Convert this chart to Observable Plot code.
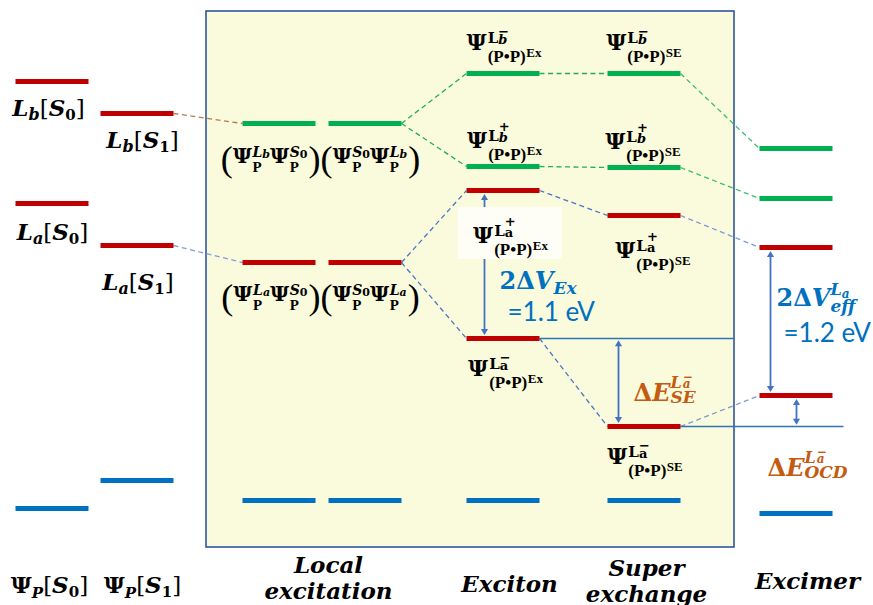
<!DOCTYPE html>
<html>
<head>
<meta charset="utf-8">
<script src="https://cdn.jsdelivr.net/npm/d3@7"></script>
<script src="https://cdn.jsdelivr.net/npm/@observablehq/plot@0.6"></script>
<style>
html,body{margin:0;padding:0;background:#fff;}
#chart svg{display:block;}
</style>
</head>
<body>
<div id="chart"></div>
<script>
// ---------------- DATA ----------------
const columns = ["S0", "S1", "LE1", "LE2", "Ex", "SE", "Excimer"];
const columnTitles = ["Ψ_P[S_0]", "Ψ_P[S_1]", "Local\nexcitation", "", "Exciton", "Super\nexchange", "Excimer"];

const levelColumn = ["S0","S0","S0", "S1","S1","S1", "LE1","LE1","LE1", "LE2","LE2","LE2",
  "Ex","Ex","Ex","Ex","Ex", "SE","SE","SE","SE","SE", "Excimer","Excimer","Excimer","Excimer","Excimer"];
const levelState = ["Lb","La","G", "Lb","La","G", "Lb","La","G", "Lb","La","G",
  "Lb-","Lb+","La+","La-","G", "Lb-","Lb+","La+","La-","G", "Lb-","Lb+","La+","La-","G"];
// relative energies (arbitrary units)
const levelEnergy = [524,402,97, 492,360,125, 482,343,105, 482,343,105,
  532,439,415,267,105, 532,438,390,179,105, 457,407,358,210,92];

const correlations = [
  ["S1","Lb","LE1","Lb"], ["S1","La","LE1","La"],
  ["LE2","Lb","Ex","Lb-"], ["LE2","Lb","Ex","Lb+"], ["LE2","La","Ex","La+"], ["LE2","La","Ex","La-"],
  ["Ex","Lb-","SE","Lb-"], ["Ex","Lb+","SE","Lb+"], ["Ex","La+","SE","La+"], ["Ex","La-","SE","La-"],
  ["SE","Lb-","Excimer","Lb-"], ["SE","Lb+","Excimer","Lb+"], ["SE","La+","Excimer","La+"], ["SE","La-","Excimer","La-"]
];

const gapNames = ["2ΔV_Ex", "ΔE_SE", "2ΔV_eff", "ΔE_OCD"];
const gapValues = [1.1, null, 1.2, null]; // eV
const gapColumn = ["Ex", "SE", "Excimer", "Excimer"];
const gapUpper = [["Ex","La+"], ["Ex","La-"], ["Excimer","La+"], ["Excimer","La-"]];
const gapLower = [["Ex","La-"], ["SE","La-"], ["Excimer","La-"], ["SE","La-"]];

// ---------------- LAYOUT ----------------
const W = 873, H = 605;
const colX = {S0: 51.5, S1: 136.5, LE1: 278.5, LE2: 364.5, Ex: 502.5, SE: 643.5, Excimer: 795.5};
const halfW = 36.5, thick = 5;
const RED = "#c00000", GREEN = "#00b050", BLUE = "#0070c0";
const ARROW = "#4472c4", GUIDE = "#2e75b6", ORANGE = "#c55a11", TXTBLUE = "#0070c0";
const MATH = "DejaVu Serif, Liberation Serif, serif";
const TIMES = "Liberation Serif, serif";
const SANS = "Lato, Open Sans, sans-serif";

const levels = levelColumn.map((col, i) => ({col, state: levelState[i], E: levelEnergy[i]}));
const lvl = (c, s) => levels.find(d => d.col === c && d.state === s);
const xL = d => colX[d.col] - halfW, xR = d => colX[d.col] + halfW;
const mono = c => c === "S0" || c === "S1";
levels.forEach(d => {
  d.x1 = xL(d); d.x2 = xR(d);
  d.color = d.state === "G" ? BLUE : d.state.startsWith("La") ? RED : (mono(d.col) ? RED : GREEN);
});

const box = {x1: colX.LE1 - halfW - 36, x2: colX.SE + halfW + 54, y1: lvl("LE1","G").E - 47, y2: lvl("Ex","Lb-").E + 62};

function linkColor(a, b) {
  const isB = a.state.startsWith("Lb");
  if (a.col === "S1") return isB ? "#b77a4a" : "#7f9fd8";
  if (b.col === "Excimer") return isB ? "#3cbf6e" : "#7d9ad6";
  return isB ? "#20b058" : "#4a76c6";
}
const links = correlations.map(([c1, s1, c2, s2]) => {
  const a = lvl(c1, s1), b = lvl(c2, s2);
  return {x1: xR(a), y1: a.E, x2: xL(b), y2: b.E, color: linkColor(a, b)};
});

// arrows & guide lines
const arrowX = [colX.Ex - halfW + 18, colX.SE - halfW + 11, colX.Excimer - halfW + 11, colX.Excimer + 0.5];
const guideEnd = [null, box.x2, null, colX.Excimer + halfW + 11];
const TIP = 5;
const arrows = [], heads = [], guides = [];
gapNames.forEach((name, i) => {
  const up = lvl(...gapUpper[i]), lo = lvl(...gapLower[i]);
  const tUp = up.E - (up.col === gapColumn[i] ? thick / 2 : 0.8);
  const tLo = lo.E + (lo.col === gapColumn[i] ? thick / 2 : 0.8);
  arrows.push({x: arrowX[i], y1: tUp - TIP, y2: tLo + TIP});
  heads.push({x: arrowX[i], y: tUp - TIP, r: 0}, {x: arrowX[i], y: tLo + TIP, r: 180});
  [up, lo].forEach(d => { if (d.col !== gapColumn[i]) guides.push({x1: xR(d), x2: guideEnd[i], y: d.E}); });
});

// ---------------- RICH TEXT ----------------
const T = (t, o = {}) => Object.assign({t}, o);
const RICH = {};
const labels = [];   // {key, x, y, anchor, fill}

function dimerTokens(fam, sign, tag) {
  return [
    T("Ψ", {fs: 22}),
    T("L", {fs: 15, sh: -7, mark: "A", gap: 1}),
    T(sign === "-" ? "−" : "+", {fs: 13, sh: sign === "-" ? -14 : -17, mark: "B"}),
    T(fam, {fs: 13, sh: -6, it: fam === "b", back: "B"}),
    T("(P•P)", {fs: 17, sh: 12, f: TIMES, back: "A"}),
    T(tag, {fs: 13, sh: 7, f: TIMES, gap: 0.5})
  ];
}
function psiTokens(s1, s2, it2) {
  return [
    T("Ψ", {fs: 21}),
    T(s1, {fs: 14, sh: -6, it: true, mark: "A", gap: 0.5}),
    T(s2, {fs: 11, sh: -5, it: it2}),
    T("P", {fs: 15, sh: 9, f: TIMES, back: "A"})
  ];
}
function localTokens(fam) {
  const P = o => T("(", Object.assign({fs: 36, sh: 8, w: "normal", f: TIMES}, o));
  const Q = o => T(")", Object.assign({fs: 36, sh: 8, w: "normal", f: TIMES, gap: 1}, o));
  const a = psiTokens("L", fam, true), b = psiTokens("S", "0", false);
  const b2 = psiTokens("S", "0", false), a2 = psiTokens("L", fam, true);
  b[0].clear = "A"; a2[0].clear = "A";
  return [P(), ...a, ...b, Q({clear: "A"}), P(), ...b2, ...a2, Q({clear: "A"})];
}
function stateTokens(fam, n, psi) {
  const base = psi ? [T("Ψ", {fs: 23}), T("P", {fs: 15, sh: 5, it: true})]
                   : [T("L", {fs: 23, it: true}), T(fam, {fs: 16, sh: 4, it: true})];
  return [...base, T("[", {fs: 23, w: "normal"}), T("S", {fs: 23, it: true}), T(n, {fs: 15, sh: 4}), T("]", {fs: 23, w: "normal"})];
}
function gapTokens(i) {
  const name = gapNames[i];
  if (name === "2ΔV_Ex") return [T("2Δ", {fs: 24}), T("V", {fs: 24, it: true}), T("Ex", {fs: 17, it: true, sh: 5})];
  if (name === "2ΔV_eff") return [T("2Δ", {fs: 24}), T("V", {fs: 24, it: true}),
    T("L", {fs: 16, it: true, sh: -11, mark: "A"}), T("a", {fs: 12, it: true, sh: -8}),
    T("eff", {fs: 17, it: true, sh: 6, back: "A"})];
  const sub = name === "ΔE_SE" ? "SE" : "OCD";
  return [T("Δ", {fs: 24}), T("E", {fs: 24, it: true}),
    T("L", {fs: 16, it: true, sh: -13, mark: "A"}), T("−", {fs: 12, sh: -20, mark: "B", gap: 1}),
    T("a", {fs: 12, it: true, sh: -13, back: "B"}),
    T(sub, {fs: 17, it: true, sh: 2, back: "A"})];
}

function addLabel(key, tokens, x, y, anchor = "middle", fill = "#000") {
  if (tokens) RICH[key] = tokens;
  labels.push({key, x, y, anchor, fill});
}

// monomer state labels (below each level)
const monoOffset = {"S0|Lb": [-3.5, -34], "S1|Lb": [5.5, -34], "S0|La": [0.5, -36], "S1|La": [1, -44]};
levels.filter(d => mono(d.col) && d.state !== "G").forEach(d => {
  const [dx, dy] = monoOffset[d.col + "|" + d.state];
  const fam = d.state[1], n = d.col[1];
  addLabel(`L_${fam}[S_${n}]`, stateTokens(fam, n, false), colX[d.col] + dx, d.E + dy);
});
// local-excitation product labels
[["Lb", -39], ["La", -38]].forEach(([s, dy]) => {
  const d = lvl("LE1", s);
  addLabel(`LE_${s}`, localTokens(s[1]), (colX.LE1 + colX.LE2) / 2 - 1.5, d.E + dy);
});
// dimer labels
const dimerOffset = {
  "Ex|Lb-": [1, 24], "SE|Lb-": [0, 24], "Ex|Lb+": [1.5, 19], "SE|Lb+": [-1, 19],
  "Ex|La+": [7.5, -52], "SE|La+": [9, -42], "Ex|La-": [2.5, -37], "SE|La-": [1, -37]
};
levels.filter(d => (d.col === "Ex" || d.col === "SE") && d.state !== "G").forEach(d => {
  const [dx, dy] = dimerOffset[d.col + "|" + d.state];
  addLabel(`D_${d.col}_${d.state}`, dimerTokens(d.state[1], d.state[2], d.col), colX[d.col] + dx, d.E + dy);
});
// white backing behind the exciton La+ label
const exLaP = lvl("Ex", "La+");
const backing = [{x1: colX.Ex - 44.5, x2: colX.Ex + 59.5, y1: exLaP.E - 69, y2: exLaP.E - 17}];

// gap annotations
const gapTextPos = [[15, 317], [15, 205], [6, 300], [-29, 130]]; // dx from arrow, baseline
const valuePos = [[23, 285], null, [13, 264], null];
gapNames.forEach((name, i) => {
  const fill = name.startsWith("2") ? TXTBLUE : ORANGE;
  addLabel(name, gapTokens(i), arrowX[i] + gapTextPos[i][0], gapTextPos[i][1], "start", fill);
});
const valueTexts = gapValues.map((v, i) => v == null ? null :
  {text: `=${v.toFixed(1)} eV`, x: arrowX[i] + valuePos[i][0], y: valuePos[i][1]}).filter(Boolean);

// column titles
const titleOffset = {S0: [-2.5, 13], S1: [5.5, 13], LE1: [49.5, 7], Ex: [6.5, 14], SE: [2.5, 4], Excimer: [11.5, 17]};
const titles = [];
columns.forEach((c, i) => {
  const t = columnTitles[i];
  if (!t) return;
  const [dx, y] = titleOffset[c];
  if (t.startsWith("Ψ")) addLabel(t, stateTokens(null, c[1], true), colX[c] + dx, y);
  else titles.push({text: t, x: colX[c] + dx, y});
});

// ---------------- PLOT ----------------
const textMark = (data, anchor, fill) => Plot.text(data.filter(d => d.anchor === anchor && d.fill === fill), {
  x: "x", y: "y", text: "key", textAnchor: anchor, lineAnchor: "bottom",
  fill, fontFamily: MATH, fontWeight: "bold", fontSize: 20
});

const chart = Plot.plot({
  width: W, height: H, margin: 0,
  x: {domain: [0, W], range: [0, W], axis: null},
  y: {domain: [0, H], range: [H, 0], axis: null},
  style: {background: "white", overflow: "visible"},
  marks: [
    Plot.rect([box], {x1: "x1", x2: "x2", y1: "y1", y2: "y2", fill: "#fafadc", stroke: "#2f55a0", strokeWidth: 1.6}),
    Plot.link(links, {x1: "x1", y1: "y1", x2: "x2", y2: "y2", stroke: d => d.color, strokeWidth: 1.3, strokeDasharray: "5,3.5"}),
    Plot.link(guides, {x1: "x1", x2: "x2", y1: "y", y2: "y", stroke: GUIDE, strokeWidth: 1.5}),
    Plot.link(levels, {x1: "x1", x2: "x2", y1: "E", y2: "E", stroke: d => d.color, strokeWidth: thick, strokeLinecap: "butt"}),
    Plot.link(arrows, {x1: "x", x2: "x", y1: "y1", y2: "y2", stroke: ARROW, strokeWidth: 1.8}),
    Plot.dot(heads, {x: "x", y: "y", rotate: "r", symbol: "triangle2", r: 3.4, fill: ARROW, stroke: "none"}),
    Plot.rect(backing, {x1: "x1", x2: "x2", y1: "y1", y2: "y2", fill: "#fefef6"}),
    textMark(labels, "middle", "#000"),
    textMark(labels, "start", TXTBLUE),
    textMark(labels, "start", ORANGE),
    Plot.text(valueTexts, {x: "x", y: "y", text: "text", textAnchor: "start", lineAnchor: "bottom",
      fill: TXTBLUE, fontFamily: SANS, fontSize: 26}),
    Plot.text(titles, {x: "x", y: "y", text: "text", textAnchor: "middle", lineAnchor: "bottom",
      fontFamily: MATH, fontWeight: "bold", fontStyle: "italic", fontSize: 23, lineHeight: 1.12})
  ]
});
document.getElementById("chart").append(chart);

function applyRich(svg) {
  const NS = "http://www.w3.org/2000/svg";
  svg.querySelectorAll("text").forEach(el => {
    const toks = RICH[el.textContent];
    if (!toks) return;
    el.textContent = "";
    const spans = toks.map(tk => {
      const ts = document.createElementNS(NS, "tspan");
      ts.textContent = tk.t;
      ts.setAttribute("font-size", tk.fs);
      ts.setAttribute("font-family", tk.f || MATH);
      ts.setAttribute("font-weight", tk.w || "bold");
      ts.setAttribute("font-style", tk.it ? "italic" : "normal");
      el.appendChild(ts);
      return ts;
    });
    let cur = 0;
    toks.forEach((tk, i) => { const sh = tk.sh || 0; spans[i].setAttribute("dy", sh - cur); cur = sh; });
    const widths = spans.map(s => s.getComputedTextLength());
    const marks = {}, starts = [], ends = [];
    let pos = 0;
    toks.forEach((tk, i) => {
      let dx = tk.gap || 0;
      if (tk.back) dx += starts[marks[tk.back]] - pos;
      if (tk.clear) dx += Math.max(...ends.slice(marks[tk.clear])) - pos;
      if (dx) spans[i].setAttribute("dx", dx);
      starts[i] = pos + dx; ends[i] = starts[i] + widths[i]; pos = ends[i];
      if (tk.mark) marks[tk.mark] = i;
    });
  });
}
applyRich(chart);
</script>
</body>
</html>
